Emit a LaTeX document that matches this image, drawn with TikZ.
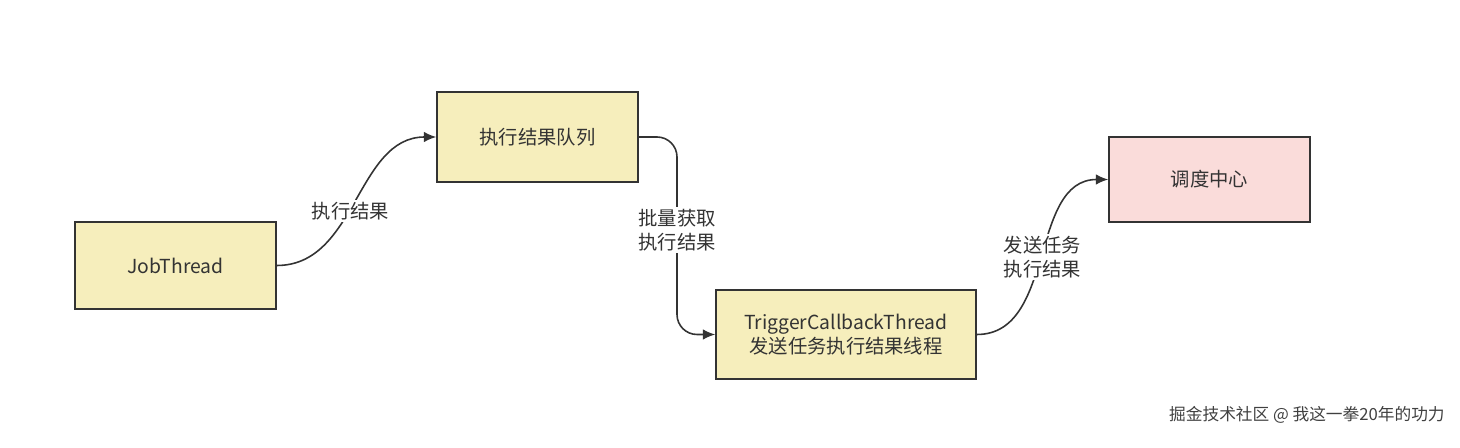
\documentclass[tikz,border=0pt]{standalone}
\usepackage{fontspec}
\setmainfont{Noto Sans CJK SC}
\usetikzlibrary{arrows.meta}
\definecolor{yfill}{HTML}{F6EEBC}
\definecolor{pfill}{HTML}{FADCDA}
\definecolor{edge}{HTML}{333333}
\begin{document}
\begin{tikzpicture}[x=0.02cm,y=-0.02cm,
  box/.style={draw=edge,line width=0.9pt,fill=yfill,minimum width=201*0.02cm,minimum height=87*0.02cm,inner sep=0pt,align=center,font=\fontsize{11}{13.5}\selectfont,text=edge},
  conn/.style={draw=edge,line width=0.9pt,-{Latex[length=7pt,width=6pt]}},
  lab/.style={fill=white,align=center,font=\fontsize{11}{13.5}\selectfont,text=edge,inner sep=1pt}]
\useasboundingbox (0,0) rectangle (1460,448);
\node[box] (job) at (175.5,265.5) {JobThread};
\node[box,minimum height=90*0.02cm] (queue) at (537.5,137) {执行结果队列};
\node[box,minimum width=260*0.02cm,minimum height=89*0.02cm] (trig) at (846,334.5) {TriggerCallbackThread\\发送任务执行结果线程};
\node[box,fill=pfill,minimum height=85*0.02cm] (center) at (1209.5,179.5) {调度中心};
\draw[conn] (job.east) to[out=0,in=180] node[lab,pos=0.45] (l1) {执行结果} (queue.west);
\draw[conn,rounded corners=20*0.02cm] (queue.east) -| (677,250) |- (trig.west);
\node[lab] (l2) at (677,230) {批量获取\\执行结果};
\draw[conn] (trig.east) to[out=0,in=180] node[lab,pos=0.5] (l3) {发送任务\\执行结果} (center.west);
\node[anchor=east,inner sep=0pt,font=\fontsize{9.5}{12}\selectfont,text=black!75] (wm) at (1445,415) {掘金技术社区 @ 我这一拳20年的功力};
\end{tikzpicture}
\end{document}
